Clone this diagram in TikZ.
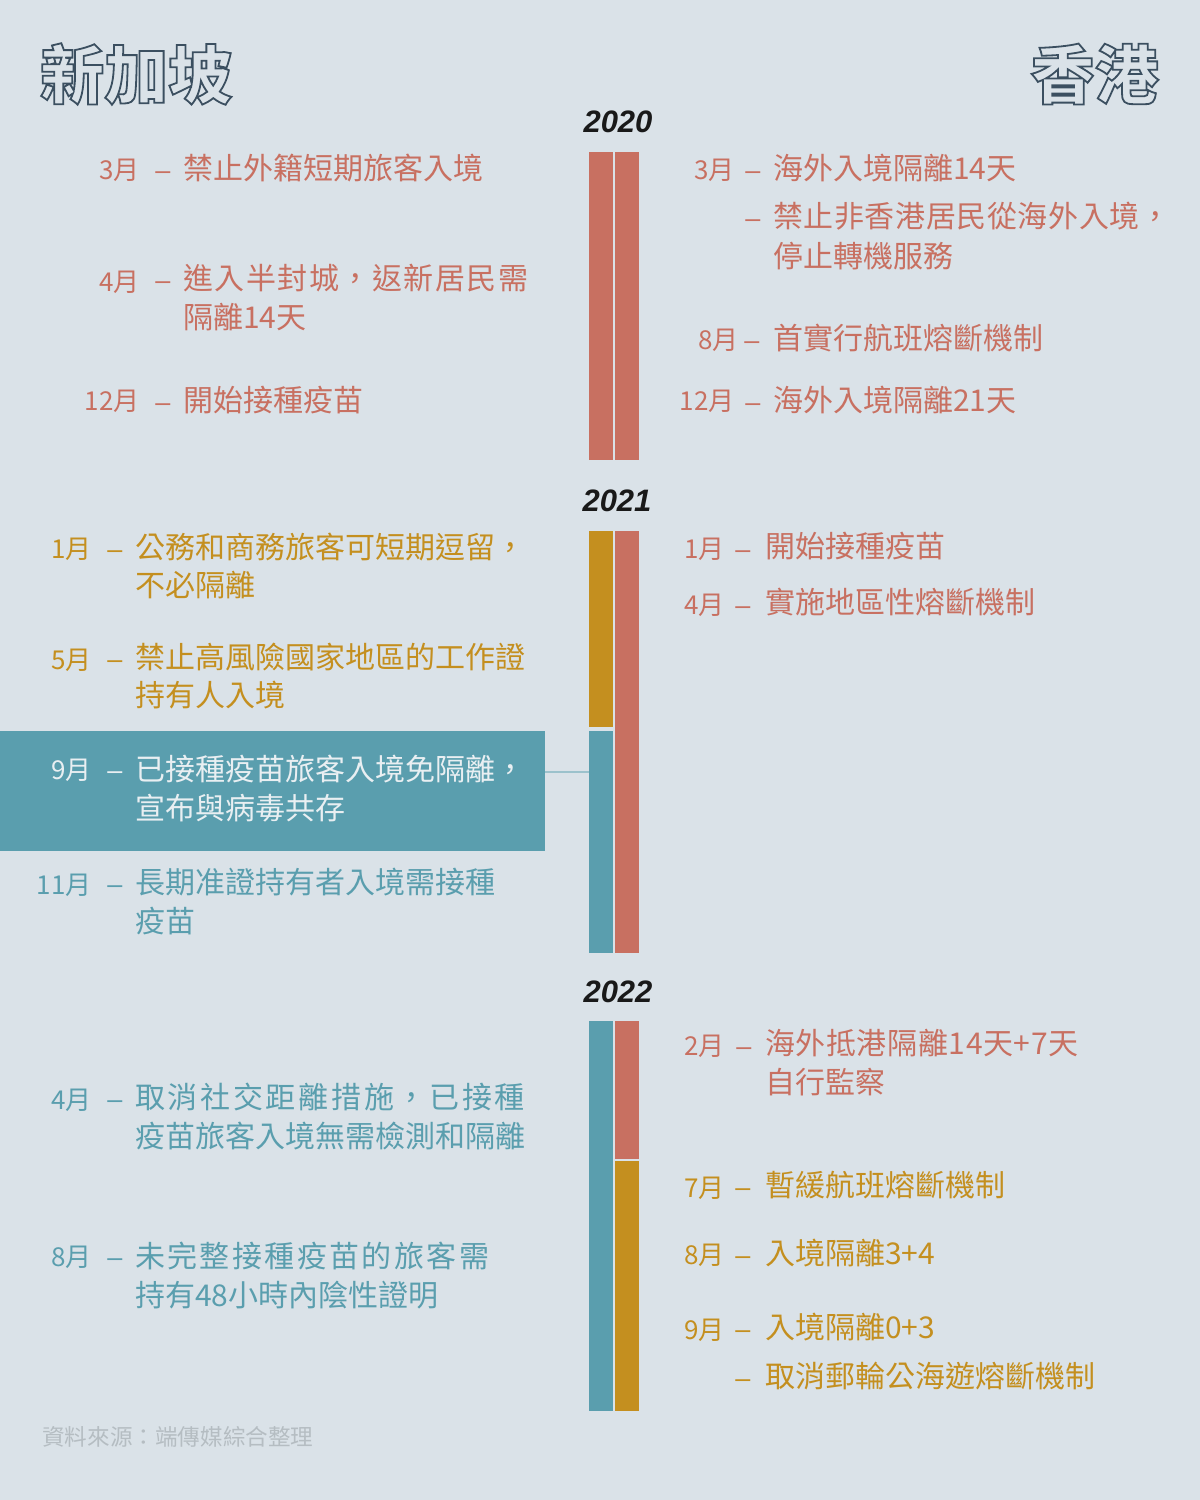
\documentclass[tikz,border=0pt]{standalone}
\usepackage{fontspec}
\setmainfont{Noto Sans CJK TC}
\newfontfamily\yearfont{Liberation Sans}
\definecolor{bg}{HTML}{DAE2E8}
\definecolor{cred}{HTML}{C87061}
\definecolor{cgold}{HTML}{C48F1F}
\definecolor{cteal}{HTML}{5A9EAE}
\definecolor{clink}{HTML}{9CC2CC}
\definecolor{ctitle}{HTML}{3B4F60}
\definecolor{cfoot}{HTML}{B5BDC2}
\definecolor{cwhite}{HTML}{E9EFF2}
\newcommand\outlinetxt[1]{\special{pdf:literal direct 1 Tr 1.8 w}#1\special{pdf:literal direct 0 Tr}}
\tikzset{
  txt/.style={anchor=west, inner sep=0pt, xshift=-2pt, font=\fontsize{30}{36}\selectfont, text height=26.4pt, text depth=3.6pt},
  mon/.style={anchor=east, inner sep=0pt, font=\fontsize{26}{30}\selectfont, text height=22.8pt, text depth=3.2pt},
  dsh/.style={anchor=center, inner sep=0pt, font=\yearfont\fontsize{27}{30}\selectfont, text height=22.8pt, text depth=3.2pt},
  bar/.style={anchor=north west, inner sep=0pt, minimum width=24pt, draw=none},
  year/.style={anchor=center, inner sep=0pt, font=\yearfont\bfseries\itshape\fontsize{31}{36}\selectfont, text=black!90},
  ttl/.style={inner sep=0pt, font=\bfseries\fontsize{64}{70}\selectfont, text=ctitle},
  conn/.style={draw=clink, line width=2pt},
}
\begin{document}
\begin{tikzpicture}[x=1pt,y=-1pt]
\fill[bg] (0,0) rectangle (1200,1500);
\useasboundingbox (0,0) rectangle (1200,1500);

% titles
\node[ttl, anchor=west] (tsg) at (40,74) {\outlinetxt{新加坡}};
\node[ttl, anchor=east] (thk) at (1159,74) {\outlinetxt{香港}};

% years
\node[year] (y20) at (618,122) {2020};
\node[year] (y21) at (617,501) {2021};
\node[year] (y22) at (618,992) {2022};

% highlight box
\node[anchor=north west, inner sep=0pt, minimum width=545pt, minimum height=120pt, fill=cteal] (hl) at (0,731) {};

% bars
\node[bar, fill=cred, minimum height=308pt] (b1l) at (589,152) {};
\node[bar, fill=cred, minimum height=308pt] (b1r) at (615,152) {};
\node[bar, fill=cgold, minimum height=196pt] (b2la) at (589,531) {};
\node[bar, fill=cteal, minimum height=222pt] (b2lb) at (589,731) {};
\node[bar, fill=cred, minimum height=422pt] (b2r) at (615,531) {};
\node[bar, fill=cteal, minimum height=390pt] (b3l) at (589,1021) {};
\node[bar, fill=cred, minimum height=138pt] (b3ra) at (615,1021) {};
\node[bar, fill=cgold, minimum height=250pt] (b3rb) at (615,1161) {};

% connector
\coordinate (c772) at (0,772);
\draw[conn] (hl.east |- c772) -- (b2lb.west |- c772);

% ===== 2020 left (red) =====
\begin{scope}[every node/.append style={text=cred}]
\node[mon] (m1) at (140,170) {3月};
\node[dsh] (d1) at (163,170) {–};
\node[txt] (t1) at (185,168) {禁止外籍短期旅客入境};
\node[mon] (m2) at (140,282) {4月};
\node[dsh] (d2) at (163,280) {–};
\node[txt] (t2a) at (185,278) {\addfontfeature{LetterSpace=5}進入半封城，返新居民需};
\node[txt] (t2b) at (185,317) {隔離14天};
\node[mon] (m3) at (140,401) {12月};
\node[dsh] (d3) at (163,402) {–};
\node[txt] (t3) at (185,400) {開始接種疫苗};
% 2020 right
\node[mon] (m4) at (735,170) {3月};
\node[dsh] (d4) at (753,170) {–};
\node[txt] (t4) at (775,168) {海外入境隔離14天};
\node[dsh] (d5) at (753,218) {–};
\node[txt] (t5a) at (775,216) {\addfontfeature{LetterSpace=2}禁止非香港居民從海外入境，};
\node[txt] (t5b) at (775,256) {停止轉機服務};
\node[mon] (m6) at (739,340) {8月};
\node[dsh] (d6) at (752,340) {–};
\node[txt] (t6) at (775,338) {首實行航班熔斷機制};
\node[mon] (m7) at (735,401) {12月};
\node[dsh] (d7) at (753,402) {–};
\node[txt] (t7) at (775,400) {海外入境隔離21天};
% 2021 right
\node[mon] (m8) at (725,549) {1月};
\node[dsh] (d8) at (743,549) {–};
\node[txt] (t8) at (767,546) {開始接種疫苗};
\node[mon] (m9) at (725,605) {4月};
\node[dsh] (d9) at (743,605) {–};
\node[txt] (t9) at (767,602) {實施地區性熔斷機制};
% 2022 right red
\node[mon] (m10) at (725,1046) {2月};
\node[dsh] (d10) at (744,1046) {–};
\node[txt] (t10a) at (767,1043) {\addfontfeature{LetterSpace=2}海外抵港隔離14天+7天};
\node[txt] (t10b) at (767,1082) {自行監察};
\end{scope}

% ===== 2021 left (gold) =====
\begin{scope}[every node/.append style={text=cgold}]
\node[mon] (m11) at (92,549) {1月};
\node[dsh] (d11) at (115,549) {–};
\node[txt] (t11a) at (137,547) {公務和商務旅客可短期逗留，};
\node[txt] (t11b) at (137,585) {不必隔離};
\node[mon] (m12) at (92,660) {5月};
\node[dsh] (d12) at (115,659) {–};
\node[txt] (t12a) at (137,657) {禁止高風險國家地區的工作證};
\node[txt] (t12b) at (137,695) {持有人入境};
% 2022 right gold
\node[mon] (m13) at (725,1188) {7月};
\node[dsh] (d13) at (743,1187) {–};
\node[txt] (t13) at (767,1185) {暫緩航班熔斷機制};
\node[mon] (m14) at (725,1255) {8月};
\node[dsh] (d14) at (743,1255) {–};
\node[txt] (t14) at (767,1253) {入境隔離3+4};
\node[mon] (m15) at (725,1330) {9月};
\node[dsh] (d15) at (743,1329) {–};
\node[txt] (t15) at (767,1327) {入境隔離0+3};
\node[dsh] (d16) at (743,1378) {–};
\node[txt] (t16) at (767,1376) {取消郵輪公海遊熔斷機制};
\end{scope}

% ===== highlight (white) =====
\begin{scope}[every node/.append style={text=cwhite}]
\node[mon] (m17) at (92,770) {9月};
\node[dsh] (d17) at (115,770) {–};
\node[txt] (t17a) at (137,769) {已接種疫苗旅客入境免隔離，};
\node[txt] (t17b) at (137,808) {宣布與病毒共存};
\end{scope}

% ===== teal =====
\begin{scope}[every node/.append style={text=cteal}]
\node[mon] (m18) at (92,885) {11月};
\node[dsh] (d18) at (115,884) {–};
\node[txt] (t18a) at (137,882) {長期准證持有者入境需接種};
\node[txt] (t18b) at (137,921) {疫苗};
\node[mon] (m19) at (92,1100) {4月};
\node[dsh] (d19) at (115,1099) {–};
\node[txt] (t19a) at (137,1097) {\addfontfeature{LetterSpace=9}取消社交距離措施，已接種};
\node[txt] (t19b) at (137,1136) {疫苗旅客入境無需檢測和隔離};
\node[mon] (m20) at (92,1257) {8月};
\node[dsh] (d20) at (115,1257) {–};
\node[txt] (t20a) at (137,1256) {\addfontfeature{LetterSpace=8}未完整接種疫苗的旅客需};
\node[txt] (t20b) at (137,1295) {持有48小時內陰性證明};
\end{scope}

% footer
\node[anchor=west, inner sep=0pt, font=\fontsize{22.6}{26}\selectfont, text=cfoot] (src) at (42,1437) {資料來源：端傳媒綜合整理};
\end{tikzpicture}
\end{document}
